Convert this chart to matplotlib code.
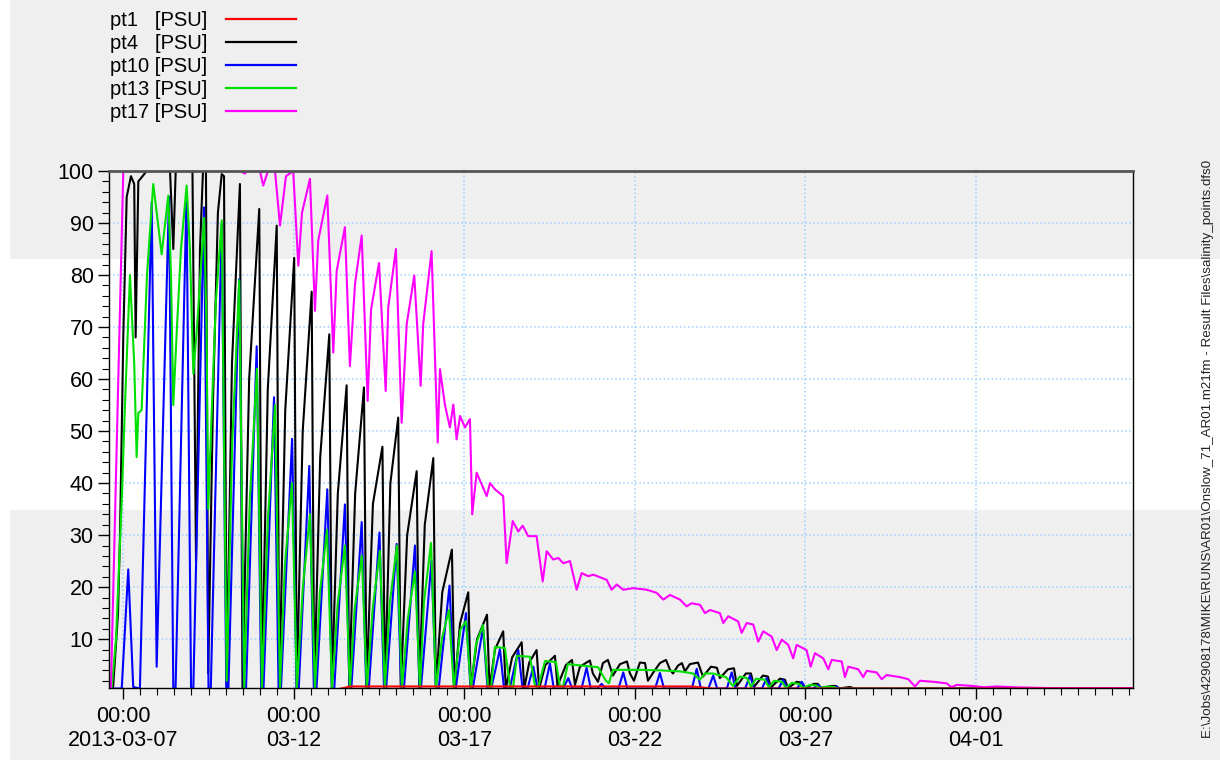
import matplotlib
matplotlib.use("Agg")
import matplotlib.pyplot as plt
import matplotlib.dates as mdates
from matplotlib.patches import Rectangle
from matplotlib.ticker import MultipleLocator
import pandas as pd

plt.rcParams['font.family'] = ['Liberation Sans', 'DejaVu Sans']

T0 = pd.Timestamp("2013-03-07 00:00")

# hours after 2013-03-07 00:00 and salinity [PSU]
pt1_hours = [-10.1, 150.0, 160.0, 400.0, 415.0, 710.6]
pt1_vals = [0.3, 0.3, 0.9, 0.9, 0.5, 0.5]

pt4_hours = [-10.1, -7.2, -3.7, -2.3, 0.0, 2.4, 5.4, 7.7, 8.7, 10.6, 16.5, 32.9, 35.2, 36.9,
             48.7, 51.2, 54.0, 56.1, 58.2, 59.8, 63.1, 66.6, 69.3, 70.9, 72.8,
             76.5, 82.1, 83.9, 88.6, 95.7, 97.5, 101.7, 108.0, 109.8, 114.0, 120.3,
             122.1, 126.3, 132.6, 134.4, 138.6, 145.0, 146.8, 151.0, 157.2, 159.0,
             163.2, 169.4, 171.2, 175.7, 182.4, 184.2, 188.0, 193.5, 195.3, 199.8,
             206.5, 208.3, 212.2, 218.2, 220.0, 224.5, 231.3, 233.1, 237.0, 242.8,
             244.6, 249.0, 256.0, 257.8, 261.6, 267.4, 269.2, 273.7, 280.4, 282.2,
             285.7, 290.9, 292.7, 297.0, 303.8, 305.6,
             311.5, 315.8, 317.9, 321.4, 328.4, 330.5, 334.1, 337.6, 341.1, 344.6,
             349.6, 354.5, 356.6, 359.4, 363.6, 367.2, 369.3, 372.8, 377.7, 382.0,
             384.8, 386.9, 390.4, 393.2, 395.3, 398.8, 404.5, 408.0, 413.6, 417.8,
             419.9, 425.6, 429.8, 431.9, 438.2, 441.8, 443.9, 450.2, 453.7, 455.8,
             462.2, 465.7, 467.8, 474.0, 477.6, 479.7, 486.0, 488.9, 491.0, 498.7,
             501.6, 503.6, 511.4, 514.9, 710.6]
pt4_vals = [0.5, 0.5, 15, 30, 68, 95, 99, 97.5, 68, 98, 100, 100, 85, 100,
            100, 25, 85, 100, 100, 3.4, 55, 92, 99.4, 99, 0.9,
            63, 97.5, 0.5, 60, 92.7, 0.5, 58, 89.5, 0.5, 54, 83.3,
            0.5, 50, 76.8, 0.5, 45, 68.6, 0.5, 38, 58.8, 0.5,
            38, 58.4, 0.5, 36, 47.0, 0.5, 40, 52.6, 0.5, 30,
            42.3, 0.5, 32, 44.8, 0.5, 19, 27.2, 0.5, 13, 19.0,
            0.5, 10, 14.7, 0.5, 8, 11.5, 0.5, 6.5, 9.4, 0.5,
            5.5, 7.9, 0.5, 5.0, 6.8, 1.0,
            5.0, 6.0, 1.2, 4.7, 5.9, 3.4, 1.8, 5.4, 6.0, 3.0,
            5.2, 5.7, 3.4, 2.0, 5.5, 5.4, 2.0, 3.5, 5.4, 6.0,
            4.1, 3.4, 4.9, 5.4, 3.8, 5.2, 5.5, 2.8, 4.7, 4.5,
            2.5, 4.2, 4.4, 1.0, 3.4, 3.4, 0.8, 3.0, 2.8, 0.7,
            2.4, 2.2, 0.6, 1.8, 1.6, 0.6, 1.4, 1.4, 0.6, 1.0,
            1.0, 0.5, 0.8, 0.5, 0.5]

pt10_hours = [-10.1, -1.1, 3.5, 7.0, 11.7, 20.0, 23.5, 32.2, 35.2, 36.8, 44.5, 47.7, 49.3,
              56.8, 60.0, 61.6, 69.3, 72.5, 74.0, 81.6, 84.8, 86.4, 93.9, 97.1, 98.7,
              106.1, 109.3, 111.0, 118.8, 122.0, 123.5, 130.9, 134.1, 136.0, 143.6,
              146.8, 148.5, 156.0, 159.2, 160.5, 167.8, 171.0, 172.8, 180.3, 183.5,
              185.0, 192.4, 195.6, 197.5, 205.3, 208.5, 209.5, 216.9, 220.1, 222.0,
              229.6, 232.8, 234.0, 241.2, 244.4, 246.0, 253.2, 256.4, 259.0, 265.1,
              268.0, 272.0, 278.0, 281.0, 284.5, 288.6, 291.5, 296.5, 300.3, 303.0,
              309.5, 313.2, 316.0, 322.5, 326.1, 329.0, 333.5, 336.7, 339.5, 348.5,
              351.9, 354.8, 374.3, 377.7, 380.6, 400.2, 403.6, 406.5, 411.8, 415.2,
              418.0, 424.8, 428.2, 431.0, 437.7, 441.1, 444.0, 449.5, 452.8, 455.6,
              461.2, 464.5, 467.4, 474.2, 477.5, 480.3, 485.6, 488.9, 491.7, 498.5,
              501.6, 504.5, 710.6]
pt10_vals = [0.5, 0.5, 23.4, 0.8, 0.5, 94, 4.7, 95, 0.5, 0.5, 95.3, 0.5, 0.5,
             93, 0.5, 0.5, 89.8, 0.5, 0.5, 79.2, 0.5, 0.5, 66.3, 0.5, 0.5,
             56.5, 0.5, 0.5, 48.5, 0.5, 0.5, 43.3, 0.5, 0.5, 38.8,
             0.5, 0.5, 35.9, 0.5, 0.5, 32.5, 0.5, 0.5, 30.5, 0.5,
             0.5, 28.3, 0.5, 0.5, 28.0, 0.5, 0.5, 25.0, 0.5, 0.5,
             20.3, 0.5, 0.5, 15.0, 0.5, 0.5, 12.2, 0.5, 0.5, 8.1,
             0.5, 0.5, 7.9, 0.5, 0.5, 4.7, 0.5, 0.5, 5.3, 0.5,
             0.5, 2.5, 0.5, 0.5, 4.5, 0.5, 0.5, 1.4, 0.5, 0.5,
             3.6, 0.5, 0.5, 3.5, 0.5, 0.5, 4.3, 0.5, 0.5, 3.0,
             0.5, 0.5, 3.6, 0.5, 0.5, 3.0, 0.5, 0.5, 2.5, 0.5,
             0.5, 2.2, 0.5, 0.5, 1.8, 0.5, 0.5, 1.2, 0.5, 0.5,
             0.9, 0.5, 0.5]

pt13_hours = [-10.1, -8.2, -5.1, -1.1, 1.2, 4.7, 7.7, 9.4, 10.6, 12.9, 16.7, 21.1, 24.4, 27.0,
              31.7, 33.6, 35.2, 37.8, 40.6, 44.6, 46.9, 49.3, 51.9, 55.2, 56.8, 58.6,
              59.8, 62.4, 65.2, 69.3, 71.2, 72.8,
              76.6, 81.6, 85.1, 89.1, 94.1, 97.6, 101.8, 106.8, 110.3, 113.7, 118.7,
              122.2, 126.4, 131.4, 134.9, 138.4, 143.4, 146.9, 151.0, 156.0, 159.5,
              162.9, 167.9, 171.4, 175.6, 180.6, 184.1, 187.6, 192.6, 196.1, 200.3,
              205.3, 208.8, 211.6, 216.6, 220.1, 224.2, 229.2, 232.7, 237.2, 241.2,
              244.7, 248.2, 253.2, 256.7, 258.8, 261.6, 268.6, 272.1, 274.3, 277.1,
              286.2, 289.8, 291.9, 296.8, 304.5, 307.3, 309.4, 312.9, 323.5, 334.1,
              339.7, 341.8, 344.6, 363.6, 377.7, 391.8, 400.9, 405.8, 409.4, 415.0,
              424.2, 429.1, 434.0, 439.0, 441.8, 445.3, 451.6, 454.4, 458.0, 463.6,
              466.4, 470.6, 475.6, 478.4, 483.3, 487.5, 490.3, 496.0, 500.2, 503.0,
              518.5, 710.6]
pt13_vals = [0.5, 0.5, 10, 36.5, 55, 80, 63, 45, 53.5, 54, 80, 97.5, 90, 84,
             95.3, 80, 55, 70, 85, 97.2, 85, 61, 70, 84, 91, 70,
             35, 55, 75, 90.5, 40, 2,
             47, 79, 0.5, 37, 62, 0.5, 33, 55, 0.5, 24, 40,
             0.5, 20, 34, 0.5, 19, 31, 0.5, 17, 28, 0.5,
             16, 26, 0.5, 16, 27, 0.5, 17, 28, 0.5, 14,
             23, 0.5, 17, 28.5, 0.5, 10, 15.6, 0.5, 11.8, 13.5,
             0.5, 9, 12.7, 1.0, 0.6, 8.5, 8.3, 1.0, 0.6, 6.8,
             6.6, 1.0, 0.6, 5.8, 5.6, 1.0, 0.8, 5.2, 4.9, 4.6,
             2.0, 1.5, 4.1, 4.1, 4.0, 3.8, 3.4, 2.2, 3.4, 3.4,
             2.7, 1.0, 2.8, 2.5, 0.8, 2.4, 2.2, 0.7, 2.0, 1.8,
             0.6, 1.6, 1.4, 0.6, 1.2, 1.1, 0.6, 0.9, 0.8, 0.5,
             0.5, 0.5]

pt17_hours = [-10.1, -8.7, 0.0, 82.1, 85.7, 87.1, 96.2, 98.5, 101.8, 106.8, 110.3, 114.5,
              119.6, 123.2, 125.8, 131.4, 134.9, 137.2, 143.6, 147.8, 150.2, 156.0,
              159.5, 163.1, 167.8, 172.0, 174.4, 180.0, 184.7, 186.5, 191.9, 195.9,
              199.5, 204.8, 209.3, 211.1, 217.0, 221.3, 222.9, 226.4, 229.9, 232.3,
              234.6, 237.0, 240.5, 244.0, 245.6, 248.7, 255.8, 258.1, 261.6, 267.4,
              269.8, 274.1, 278.0, 281.1, 285.0, 290.9, 295.2, 298.0, 302.6, 306.2,
              309.7, 314.4, 319.1, 322.6, 327.3, 330.8, 335.5, 340.2, 343.7, 347.3,
              351.9, 358.9, 368.4, 375.4, 380.1, 384.8, 391.8, 396.5, 400.0, 405.9,
              409.4, 412.9, 419.9, 422.3, 425.8, 432.8, 435.2, 438.8, 443.4, 446.9,
              450.4, 456.3, 459.9, 463.4, 468.0, 471.5, 473.9, 480.9, 483.8, 486.8,
              492.7, 496.2, 498.6, 505.6, 507.9, 510.3, 517.3, 520.8, 523.2, 530.2,
              533.8, 537.3, 546.6, 552.5, 557.2, 560.7, 570.1, 579.5, 583.0, 586.5,
              598.2, 605.3, 614.7, 626.4, 649.9, 710.6]
pt17_vals = [0.5, 0.5, 100, 100, 99.5, 100, 100, 97.2, 100, 100, 89.5, 99,
             100, 81.8, 92, 98.5, 73.1, 86.6, 95.3, 65.1, 80.8, 89.2,
             62.5, 78.3, 87.6, 55.8, 73.4, 82.3, 57.7, 73.8, 85.0, 51.6,
             70.6, 79.9, 58.7, 70.6, 84.6, 47.8, 61.9, 55.0, 50.7, 55.1,
             48.4, 52.9, 50.7, 52.3, 34.0, 42.0, 37.5, 40.0, 38.8, 37.5,
             24.6, 32.7, 30.7, 31.8, 29.8, 29.8, 21.1, 26.9, 25.3, 25.6,
             24.6, 25.0, 19.5, 22.7, 22.1, 22.4, 21.9, 21.4, 19.5, 20.5,
             19.5, 19.8, 19.5, 18.9, 17.6, 18.5, 17.6, 16.3, 16.9, 16.6,
             15.0, 15.6, 15.0, 13.1, 14.4, 13.4, 11.2, 13.1, 12.8, 9.5,
             11.5, 10.5, 7.9, 9.9, 8.9, 6.3, 8.9, 7.9, 4.7, 7.3,
             6.3, 4.2, 6.0, 5.7, 2.7, 4.7, 4.2, 2.7, 3.9, 3.6,
             2.3, 3.1, 2.7, 2.3, 0.9, 2.0, 1.8, 1.5, 0.75, 1.2,
             1.0, 0.75, 0.9, 0.75, 0.6, 0.6]

series = [
    ("pt1   [PSU]", pt1_hours, pt1_vals, "#ff0000"),
    ("pt4   [PSU]", pt4_hours, pt4_vals, "#000000"),
    ("pt10 [PSU]", pt10_hours, pt10_vals, "#0000ff"),
    ("pt13 [PSU]", pt13_hours, pt13_vals, "#00e000"),
    ("pt17 [PSU]", pt17_hours, pt17_vals, "#ff00ff"),
]
draw_order = [1, 2, 3, 4, 0]

source_file = ("E:\\Jobs\\42908178\\MIKE\\RUNS\\AR01\\Onslow_71_AR01.m21fm - "
               "Result Files\\salinity_points.dfs0")


def to_times(hours):
    return T0 + pd.to_timedelta(hours, unit="h")


fig = plt.figure(figsize=(12.2, 7.6), dpi=100, facecolor="white")

# page shading behind the plot
fig.add_artist(Rectangle((0.0082, 0.0), 0.9918, 0.329, transform=fig.transFigure,
                         facecolor="#efefef", edgecolor="none", zorder=-1))
fig.add_artist(Rectangle((0.0082, 0.659), 0.9918, 0.341, transform=fig.transFigure,
                         facecolor="#efefef", edgecolor="none", zorder=-1))

ax = fig.add_axes([0.0893, 0.0947, 0.8393, 0.6803])
ax.set_facecolor("none")

handles = {}
for i in draw_order:
    label, hrs, vals, color = series[i]
    ln, = ax.plot(to_times(hrs), vals, color=color, linewidth=1.5, label=label)
    handles[i] = ln

ax.set_xlim(pd.Timestamp("2013-03-06 13:55"), pd.Timestamp("2013-04-05 14:35"))
ax.set_ylim(0.6, 100)

major_days = pd.date_range("2013-03-07", periods=6, freq="5D")
major_labels = ["00:00\n2013-03-07"] + ["00:00\n" + d.strftime("%m-%d") for d in major_days[1:]]
ax.set_xticks(major_days, major_labels)
ax.xaxis.set_minor_locator(mdates.HourLocator(byhour=[0, 12]))
ax.set_yticks(range(10, 101, 10))
ax.yaxis.set_minor_locator(MultipleLocator(2))

ax.tick_params(axis="both", which="major", direction="out", labelsize=15.5, length=8, width=1)
ax.tick_params(axis="both", which="minor", direction="out", length=5, width=0.8)
ax.tick_params(axis="x", which="major", pad=5)
ax.tick_params(axis="y", which="major", pad=3)

ax.grid(True, which="major", color="#9fcfff", linestyle=":", linewidth=1.1)

for side in ["left", "bottom", "right"]:
    ax.spines[side].set_color("black")
    ax.spines[side].set_linewidth(1.0)
ax.spines["top"].set_color("#555555")
ax.spines["top"].set_linewidth(2.0)

leg = fig.legend([handles[i] for i in range(5)], [s[0] for s in series],
                 loc="upper left", bbox_to_anchor=(110 / 1220, 1 - 11 / 760),
                 frameon=False, markerfirst=False, fontsize=14.5,
                 handlelength=3.5, handletextpad=0.9, labelspacing=0.2,
                 borderpad=0, borderaxespad=0)
for ln in leg.get_lines():
    ln.set_linewidth(1.6)

# source file path along the right edge
fig.text(0.9905, 1 - 160 / 760, source_file, rotation=90, ha="center", va="top",
         fontsize=9.6, color="#222222")

fig.savefig("out.png", dpi=100, facecolor=fig.get_facecolor())
